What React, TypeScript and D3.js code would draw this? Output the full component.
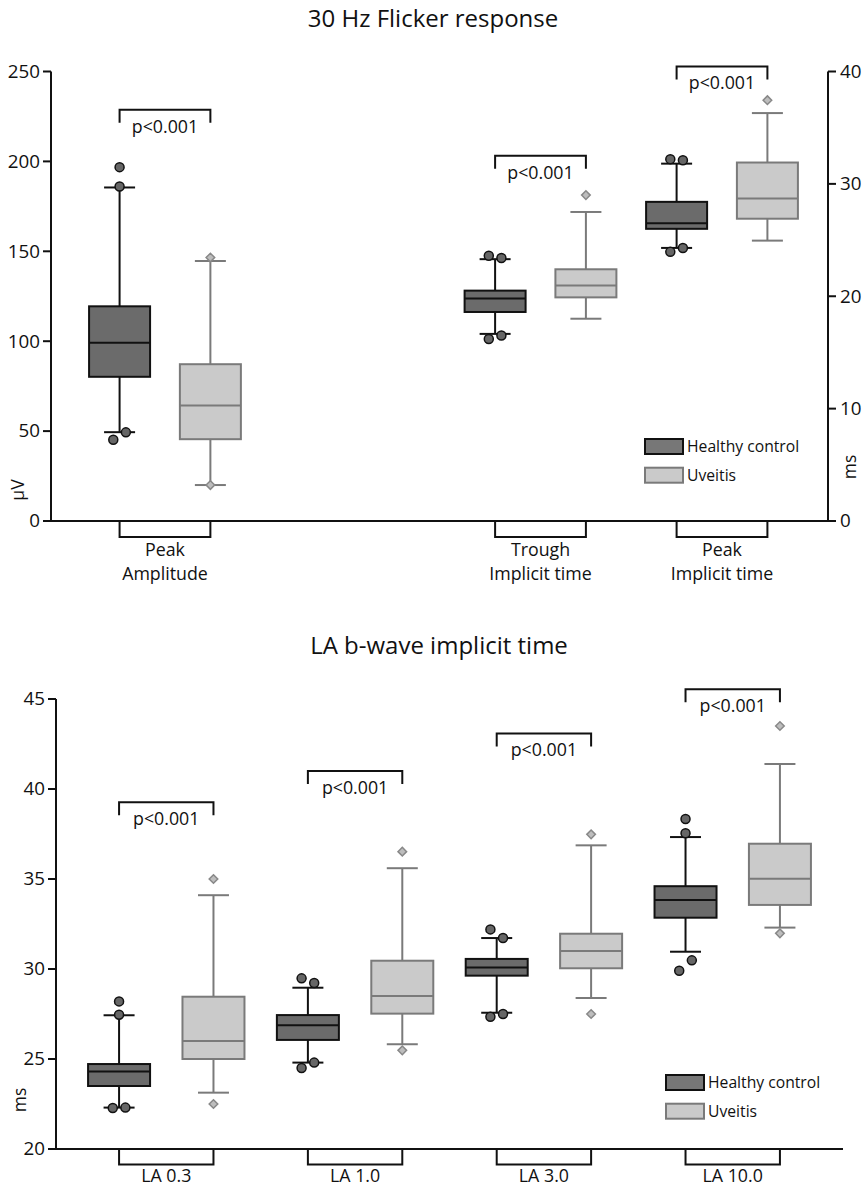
import React from "react";
import * as d3 from "d3";

// ---------- DATA ----------
const TOP_TITLE = "30 Hz Flicker response";
const TOP_GROUPS = ["Peak Amplitude", "Trough Implicit time", "Peak Implicit time"];
const TOP_LABEL_LINES = [["Peak", "Amplitude"], ["Trough", "Implicit time"], ["Peak", "Implicit time"]];
const TOP_AXIS_SIDE = ["left", "right", "right"];
const TOP_LEFT_TICKS = [0, 50, 100, 150, 200, 250];
const TOP_RIGHT_TICKS = [0, 10, 20, 30, 40];
// [whisker low, Q1, median, Q3, whisker high]
const TOP_HEALTHY = [
  [49.4, 80.2, 99.2, 119.4, 185.5],
  [16.65, 18.6, 19.8, 20.5, 23.3],
  [24.3, 26.0, 26.5, 28.4, 31.8],
];
const TOP_HEALTHY_OUT = [
  [196.8, 186, 49.3, 45.2],
  [23.6, 23.4, 16.2, 16.5],
  [32.2, 32.1, 23.95, 24.3],
];
const TOP_UVEITIS = [
  [20, 45.5, 64.2, 87.2, 144.6],
  [18.0, 19.9, 20.95, 22.4, 27.5],
  [24.95, 26.9, 28.7, 31.9, 36.3],
];
const TOP_UVEITIS_OUT = [[146.5, 20], [29.0], [37.45]];
const TOP_P_LEVEL = [228.7, 32.5, 40.45];
const TOP_P_TEXT = ["p<0.001", "p<0.001", "p<0.001"];

const BOTTOM_TITLE = "LA b-wave implicit time";
const BOTTOM_GROUPS = ["LA 0.3", "LA 1.0", "LA 3.0", "LA 10.0"];
const BOTTOM_TICKS = [20, 25, 30, 35, 40, 45];
const BOTTOM_HEALTHY = [
  [22.3, 23.5, 24.3, 24.72, 27.43],
  [24.8, 26.06, 26.87, 27.44, 28.96],
  [27.57, 29.63, 30.09, 30.56, 31.72],
  [30.96, 32.85, 33.83, 34.6, 37.33],
];
const BOTTOM_HEALTHY_OUT = [
  [28.2, 27.46, 22.28, 22.3],
  [29.48, 29.22, 24.5, 24.8],
  [32.2, 31.72, 27.35, 27.5],
  [38.33, 37.54, 29.9, 30.48],
];
const BOTTOM_UVEITIS = [
  [23.13, 25.0, 26.0, 28.46, 34.1],
  [25.82, 27.52, 28.5, 30.46, 35.6],
  [28.39, 30.04, 31.0, 31.96, 36.87],
  [32.3, 33.56, 35.02, 36.96, 41.39],
];
const BOTTOM_UVEITIS_OUT = [[35.0, 22.5], [36.52, 25.48], [37.48, 27.5], [43.5, 31.98]];
const BOTTOM_P_LEVEL = [39.26, 41.0, 43.09, 45.54];
const BOTTOM_P_TEXT = ["p<0.001", "p<0.001", "p<0.001", "p<0.001"];

const SERIES = ["Healthy control", "Uveitis"];

// ---------- STYLE ----------
const FONT = "'Open Sans', 'Noto Sans', sans-serif";
const H_FILL = "#6b6b6b";
const H_STROKE = "#111";
const U_FILL = "#cacaca";
const U_STROKE = "#7a7a7a";

type Scale = d3.ScaleLinear<number, number>;

function jitter(values: number[], stats: number[], y: Scale) {
  const hi = values.filter((v) => v > stats[3]).sort((a, b) => b - a);
  const lo = values.filter((v) => v <= stats[3]).sort((a, b) => a - b);
  const out: { v: number; dx: number }[] = [];
  [hi, lo].forEach((arr) => {
    let i = 0;
    while (i < arr.length) {
      if (i + 1 < arr.length && Math.abs(y(arr[i]) - y(arr[i + 1])) < 12) {
        out.push({ v: arr[i], dx: -6.3 });
        out.push({ v: arr[i + 1], dx: 6.3 });
        i += 2;
      } else {
        out.push({ v: arr[i], dx: 0 });
        i += 1;
      }
    }
  });
  return out;
}

function Box({ cx, stats, outliers, y, healthy, w }: { cx: number; stats: number[]; outliers: number[]; y: Scale; healthy: boolean; w: number }) {
  const [lo, q1, med, q3, hi] = stats;
  const stroke = healthy ? H_STROKE : U_STROKE;
  const fill = healthy ? H_FILL : U_FILL;
  const cap = 15.5;
  const pts = jitter(outliers, stats, y);
  return (
    <g>
      <line x1={cx} x2={cx} y1={y(hi)} y2={y(q3)} stroke={stroke} strokeWidth={2} />
      <line x1={cx} x2={cx} y1={y(q1)} y2={y(lo)} stroke={stroke} strokeWidth={2} />
      <line x1={cx - cap} x2={cx + cap} y1={y(hi)} y2={y(hi)} stroke={stroke} strokeWidth={2} />
      <line x1={cx - cap} x2={cx + cap} y1={y(lo)} y2={y(lo)} stroke={stroke} strokeWidth={2} />
      <rect x={cx - w / 2} y={y(q3)} width={w} height={y(q1) - y(q3)} fill={fill} stroke={stroke} strokeWidth={2} />
      <line x1={cx - w / 2} x2={cx + w / 2} y1={y(med)} y2={y(med)} stroke={stroke} strokeWidth={2} />
      {pts.map((p, i) =>
        healthy ? (
          <circle key={i} cx={cx + p.dx} cy={y(p.v)} r={4.5} fill="#666" stroke="#111" strokeWidth={1.5} />
        ) : (
          <path
            key={i}
            d={`M${cx},${y(p.v) - 4.3}L${cx + 4.3},${y(p.v)}L${cx},${y(p.v) + 4.3}L${cx - 4.3},${y(p.v)}Z`}
            fill="#bdbdbd"
            stroke="#888"
            strokeWidth={1.5}
          />
        )
      )}
    </g>
  );
}

function PBracket({ x1, x2, yTop, text }: { x1: number; x2: number; yTop: number; text: string }) {
  return (
    <g>
      <path d={`M${x1},${yTop + 13}V${yTop}H${x2}V${yTop + 13}`} fill="none" stroke="#111" strokeWidth={2} />
      <text x={(x1 + x2) / 2} y={yTop + 23} textAnchor="middle" fontSize={17.8} fontFamily={FONT} fill="#111">
        {text}
      </text>
    </g>
  );
}

function Legend({ x, y }: { x: number; y: number }) {
  return (
    <g>
      {SERIES.map((s, i) => (
        <g key={s} transform={`translate(${x},${y + i * 28.7})`}>
          <rect x={0} y={0} width={38} height={15} fill={i === 0 ? "#777" : U_FILL} stroke={i === 0 ? H_STROKE : U_STROKE} strokeWidth={2} />
          <text x={42} y={13} fontSize={15.7} fontFamily={FONT} fill="#111">
            {s}
          </text>
        </g>
      ))}
    </g>
  );
}

function TopChart() {
  const left = 51, right = 828, bottom = 521, top = 71.5;
  const yL = d3.scaleLinear().domain([0, 250]).range([bottom, top]);
  const yR = d3.scaleLinear().domain([0, 40]).range([bottom, top]);
  const slots = [0.628, 2.697, 3.697];
  const xs = d3.scaleLinear().domain([0, 4.281]).range([left, right]);
  const off = 45.4;
  const bw = 61;
  return (
    <g>
      <text x={433} y={27} textAnchor="middle" fontSize={24} fontFamily={FONT} fill="#111">{TOP_TITLE}</text>
      <line x1={left} x2={left} y1={top} y2={bottom} stroke="#111" strokeWidth={2} />
      <line x1={right} x2={right} y1={top} y2={bottom} stroke="#111" strokeWidth={2} />
      <line x1={left - 1} x2={right + 1} y1={bottom} y2={bottom} stroke="#111" strokeWidth={2} />
      {TOP_LEFT_TICKS.map((t) => (
        <g key={t}>
          <line x1={left - 8} x2={left} y1={yL(t)} y2={yL(t)} stroke="#111" strokeWidth={2} />
          <text x={left - 11} y={yL(t) + 6.3} textAnchor="end" fontSize={18.8} fontFamily={FONT} fill="#111">{t}</text>
        </g>
      ))}
      {TOP_RIGHT_TICKS.map((t) => (
        <g key={t}>
          <line x1={right} x2={right + 8} y1={yR(t)} y2={yR(t)} stroke="#111" strokeWidth={2} />
          <text x={right + 12} y={yR(t) + 6.3} textAnchor="start" fontSize={18.8} fontFamily={FONT} fill="#111">{t}</text>
        </g>
      ))}
      <text transform={`translate(24,${490}) rotate(-90)`} textAnchor="middle" fontSize={17.5} fontFamily={FONT} fill="#111">µV</text>
      <text transform={`translate(856,${467}) rotate(-90)`} textAnchor="middle" fontSize={17.5} fontFamily={FONT} fill="#111">ms</text>
      {TOP_GROUPS.map((g, i) => {
        const c = xs(slots[i]);
        const y = TOP_AXIS_SIDE[i] === "left" ? yL : yR;
        return (
          <g key={g}>
            <path d={`M${c - off},${bottom}V${bottom + 16}H${c + off}V${bottom}`} fill="none" stroke="#111" strokeWidth={2} />
            {TOP_LABEL_LINES[i].map((l, j) => (
              <text key={j} x={c} y={bottom + 35 + j * 24} textAnchor="middle" fontSize={17.8} fontFamily={FONT} fill="#111">{l}</text>
            ))}
            <PBracket x1={c - off} x2={c + off} yTop={y(TOP_P_LEVEL[i])} text={TOP_P_TEXT[i]} />
            <Box cx={c - off} stats={TOP_HEALTHY[i]} outliers={TOP_HEALTHY_OUT[i]} y={y} healthy={true} w={bw} />
            <Box cx={c + off} stats={TOP_UVEITIS[i]} outliers={TOP_UVEITIS_OUT[i]} y={y} healthy={false} w={bw} />
          </g>
        );
      })}
      <Legend x={645} y={439} />
    </g>
  );
}

function BottomChart() {
  const left = 56, right = 843, bottom = 1149, top = 699;
  const y = d3.scaleLinear().domain([20, 45]).range([bottom, top]);
  const x = d3.scalePoint<string>().domain(BOTTOM_GROUPS).range([left, right]).padding(0.584);
  const off = 47.2;
  const bw = 62;
  return (
    <g>
      <text x={439} y={654} textAnchor="middle" fontSize={24} fontFamily={FONT} fill="#111">{BOTTOM_TITLE}</text>
      <line x1={left} x2={left} y1={top} y2={bottom} stroke="#111" strokeWidth={2} />
      <line x1={left - 1} x2={right} y1={bottom} y2={bottom} stroke="#111" strokeWidth={2} />
      {BOTTOM_TICKS.map((t) => (
        <g key={t}>
          <line x1={left - 8} x2={left} y1={y(t)} y2={y(t)} stroke="#111" strokeWidth={2} />
          <text x={left - 11} y={y(t) + 6.3} textAnchor="end" fontSize={18.8} fontFamily={FONT} fill="#111">{t}</text>
        </g>
      ))}
      <text transform={`translate(26,${1100}) rotate(-90)`} textAnchor="middle" fontSize={17.5} fontFamily={FONT} fill="#111">ms</text>
      {BOTTOM_GROUPS.map((g, i) => {
        const c = x(g) as number;
        return (
          <g key={g}>
            <path d={`M${c - off},${bottom}V${bottom + 15.5}H${c + off}V${bottom}`} fill="none" stroke="#111" strokeWidth={2} />
            <text x={c} y={bottom + 33} textAnchor="middle" fontSize={17.8} fontFamily={FONT} fill="#111">{g}</text>
            <PBracket x1={c - off} x2={c + off} yTop={y(BOTTOM_P_LEVEL[i])} text={BOTTOM_P_TEXT[i]} />
            <Box cx={c - off} stats={BOTTOM_HEALTHY[i]} outliers={BOTTOM_HEALTHY_OUT[i]} y={y} healthy={true} w={bw} />
            <Box cx={c + off} stats={BOTTOM_UVEITIS[i]} outliers={BOTTOM_UVEITIS_OUT[i]} y={y} healthy={false} w={bw} />
          </g>
        );
      })}
      <Legend x={666} y={1075} />
    </g>
  );
}

export default function App() {
  return (
    <svg width={866} height={1187} style={{ position: "absolute", left: 0, top: 0, background: "#fff" }}>
      <rect width={866} height={1187} fill="#fff" />
      <TopChart />
      <BottomChart />
    </svg>
  );
}
